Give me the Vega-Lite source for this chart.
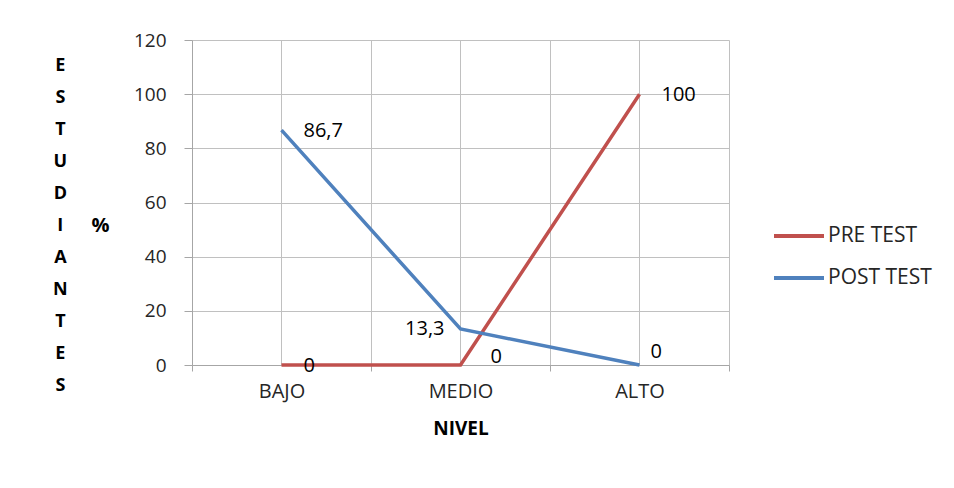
{
  "$schema": "https://vega.github.io/schema/vega-lite/v6.json",
  "width": 537,
  "height": 325,
  "autosize": {"type": "none"},
  "padding": {"left": 192, "top": 40, "right": 225, "bottom": 123},
  "background": "white",
  "config": {
    "font": "Open Sans",
    "view": {"stroke": null},
    "locale": {"number": {"decimal": ",", "thousands": ".", "grouping": [3], "currency": ["", " €"]}}
  },
  "title": {
    "text": ["E", "S", "T", "U", "D", "I", "A", "N", "T", "E", "S"],
    "orient": "left",
    "angle": 0,
    "anchor": "middle",
    "align": "center",
    "baseline": "middle",
    "fontSize": 18,
    "fontWeight": "bold",
    "lineHeight": 32,
    "color": "#000000",
    "offset": 16,
    "dy": -137
  },
  "data": {
    "values": [
      {"nivel": "BAJO", "test": "PRE TEST", "pct": 0},
      {"nivel": "MEDIO", "test": "PRE TEST", "pct": 0},
      {"nivel": "ALTO", "test": "PRE TEST", "pct": 100},
      {"nivel": "BAJO", "test": "POST TEST", "pct": 86.7},
      {"nivel": "MEDIO", "test": "POST TEST", "pct": 13.3},
      {"nivel": "ALTO", "test": "POST TEST", "pct": 0}
    ]
  },
  "encoding": {
    "x": {
      "field": "nivel",
      "type": "nominal",
      "sort": ["BAJO", "MEDIO", "ALTO"],
      "scale": {"type": "band", "paddingInner": 0, "paddingOuter": 0},
      "axis": {
        "tickBand": "extent",
        "labelAngle": 0,
        "labelFontSize": 20,
        "labelColor": "#262626",
        "labelPadding": 10,
        "tickSize": 6,
        "tickColor": "#A6A6A6",
        "domainColor": "#A6A6A6",
        "grid": true,
        "gridColor": "#C0C0C0",
        "title": "NIVEL",
        "titleFontSize": 19,
        "titleFontWeight": "bold",
        "titleColor": "#000000",
        "titleY": 63,
        "titleBaseline": "middle"
      }
    },
    "y": {
      "field": "pct",
      "type": "quantitative",
      "scale": {"domain": [0, 120], "nice": false},
      "axis": {
        "values": [0, 20, 40, 60, 80, 100, 120],
        "labelFontSize": 19,
        "labelColor": "#262626",
        "labelPadding": 18,
        "tickSize": 8,
        "tickColor": "#A6A6A6",
        "domainColor": "#A6A6A6",
        "grid": true,
        "gridColor": "#C0C0C0",
        "title": "%",
        "titleAngle": 0,
        "titleX": -92,
        "titleY": 185,
        "titleAlign": "center",
        "titleBaseline": "middle",
        "titleFontSize": 20,
        "titleFontWeight": "bold",
        "titleColor": "#000000"
      }
    }
  },
  "layer": [
    {
      "transform": [{"filter": "datum.test == 'PRE TEST'"}],
      "mark": {"type": "rule", "color": "#C0C0C0", "strokeWidth": 1},
      "encoding": {
        "y": {"datum": 0, "type": "quantitative"},
        "y2": {"datum": 120}
      }
    },
    {
      "mark": {"type": "line", "strokeWidth": 3.5},
      "encoding": {
        "color": {
          "field": "test",
          "type": "nominal",
          "scale": {"domain": ["PRE TEST", "POST TEST"], "range": ["#C0504D", "#4F81BD"]},
          "legend": {
            "title": null,
            "orient": "none",
            "legendX": 580,
            "legendY": 169,
            "symbolType": "stroke",
            "symbolSize": 2500,
            "symbolStrokeWidth": 4,
            "labelFontSize": 21,
            "labelColor": "#262626",
            "labelOffset": 2,
            "rowPadding": 5
          }
        }
      }
    },
    {
      "transform": [{"filter": "(datum.test == 'PRE TEST' && datum.nivel != 'MEDIO') || (datum.test == 'POST TEST' && datum.nivel == 'BAJO')"}],
      "mark": {"type": "text", "align": "left", "baseline": "middle", "dx": 22, "dy": 1, "fontSize": 20, "color": "#000000"},
      "encoding": {"text": {"field": "pct", "type": "quantitative", "format": ".1~f"}}
    },
    {
      "transform": [{"filter": "datum.test == 'PRE TEST' && datum.nivel == 'MEDIO'"}],
      "mark": {"type": "text", "align": "left", "baseline": "middle", "dx": 30, "dy": -8, "fontSize": 20, "color": "#000000"},
      "encoding": {"text": {"field": "pct", "type": "quantitative", "format": ".1~f"}}
    },
    {
      "transform": [{"filter": "datum.test == 'POST TEST' && datum.nivel == 'MEDIO'"}],
      "mark": {"type": "text", "align": "right", "baseline": "middle", "dx": -16, "dy": 0, "fontSize": 20, "color": "#000000"},
      "encoding": {"text": {"field": "pct", "type": "quantitative", "format": ".1~f"}}
    },
    {
      "transform": [{"filter": "datum.test == 'POST TEST' && datum.nivel == 'ALTO'"}],
      "mark": {"type": "text", "align": "left", "baseline": "middle", "dx": 11, "dy": -13, "fontSize": 20, "color": "#000000"},
      "encoding": {"text": {"field": "pct", "type": "quantitative", "format": ".1~f"}}
    }
  ]
}
